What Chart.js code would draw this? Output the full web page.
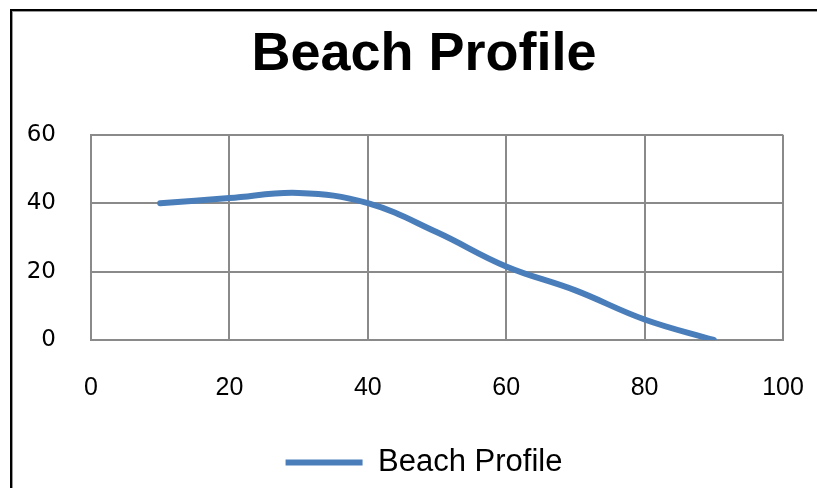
<!DOCTYPE html>
<html>
<head>
<meta charset="utf-8">
<script src="https://cdn.jsdelivr.net/npm/chart.js@4.4.1/dist/chart.umd.min.js"></script>
<style>
  html, body { margin: 0; padding: 0; background: #fff; }
  body { width: 817px; height: 488px; position: relative; overflow: hidden; }
  #frame {
    position: absolute; left: 10px; top: 9px; width: 900px; height: 600px;
    border-left: 2px solid #000; border-top: 2px solid #000;
    box-shadow: inset 1px 1px 0 #999;
  }
  #wrap { position: absolute; left: 0; top: 0; width: 817px; height: 488px; }
</style>
</head>
<body>
<div id="frame"></div>
<div id="wrap"><canvas id="beach"></canvas></div>
<script>
// Beach Profile data
const distance = [10, 20, 30, 40, 50, 60, 70, 80, 90];
const elevation = [40, 41.5, 43, 40, 31.5, 21.5, 14.5, 6, 0];
const seriesName = 'Beach Profile';

const points = distance.map((d, i) => ({ x: d, y: elevation[i] }));

const ctx = document.getElementById('beach').getContext('2d');
const chart = new Chart(ctx, {
    type: 'line',
    data: {
        datasets: [{
            label: seriesName,
            data: points,
            borderColor: '#4a7ebb',
            backgroundColor: '#4a7ebb',
            borderWidth: 6,
            borderCapStyle: 'round',
            tension: 0.4,
            fill: false,
            pointRadius: 0,
            pointHoverRadius: 0
        }]
    },
    options: {
        responsive: true,
        maintainAspectRatio: false,
        animation: false,
        // negative right padding moves the title/legend centre to the right like the original
        layout: {
            padding: { left: 12, right: -19, top: 11, bottom: 0 }
        },
        scales: {
            x: {
                type: 'linear',
                min: 0,
                max: 100,
                ticks: {
                    stepSize: 20,
                    padding: 33,
                    color: '#000',
                    font: { family: 'Liberation Sans', size: 25 }
                },
                grid: { color: '#8a8a8a', lineWidth: 2, drawTicks: false },
                border: { color: '#8a8a8a', width: 2 },
                afterFit: function (scale) {
                    scale.height = 97;
                    scale.paddingRight = 34;
                }
            },
            y: {
                min: 0,
                max: 60,
                ticks: {
                    stepSize: 20,
                    padding: 35,
                    color: '#000',
                    font: { family: 'DejaVu Sans', size: 23 }
                },
                grid: { color: '#8a8a8a', lineWidth: 2, drawTicks: false },
                border: { color: '#8a8a8a', width: 2 },
                afterFit: function (scale) { scale.width = 79; }
            }
        },
        plugins: {
            title: {
                display: true,
                text: seriesName,
                color: '#000',
                font: { family: 'Liberation Sans', size: 54, weight: 'bold' },
                padding: { top: 12, bottom: 47 }
            },
            legend: {
                display: true,
                position: 'bottom',
                labels: {
                    usePointStyle: true,
                    pointStyle: 'line',
                    pointStyleWidth: 77,
                    color: '#000',
                    font: { family: 'Liberation Sans', size: 31 }
                }
            },
            tooltip: { enabled: false }
        }
    }
});
</script>
</body>
</html>
